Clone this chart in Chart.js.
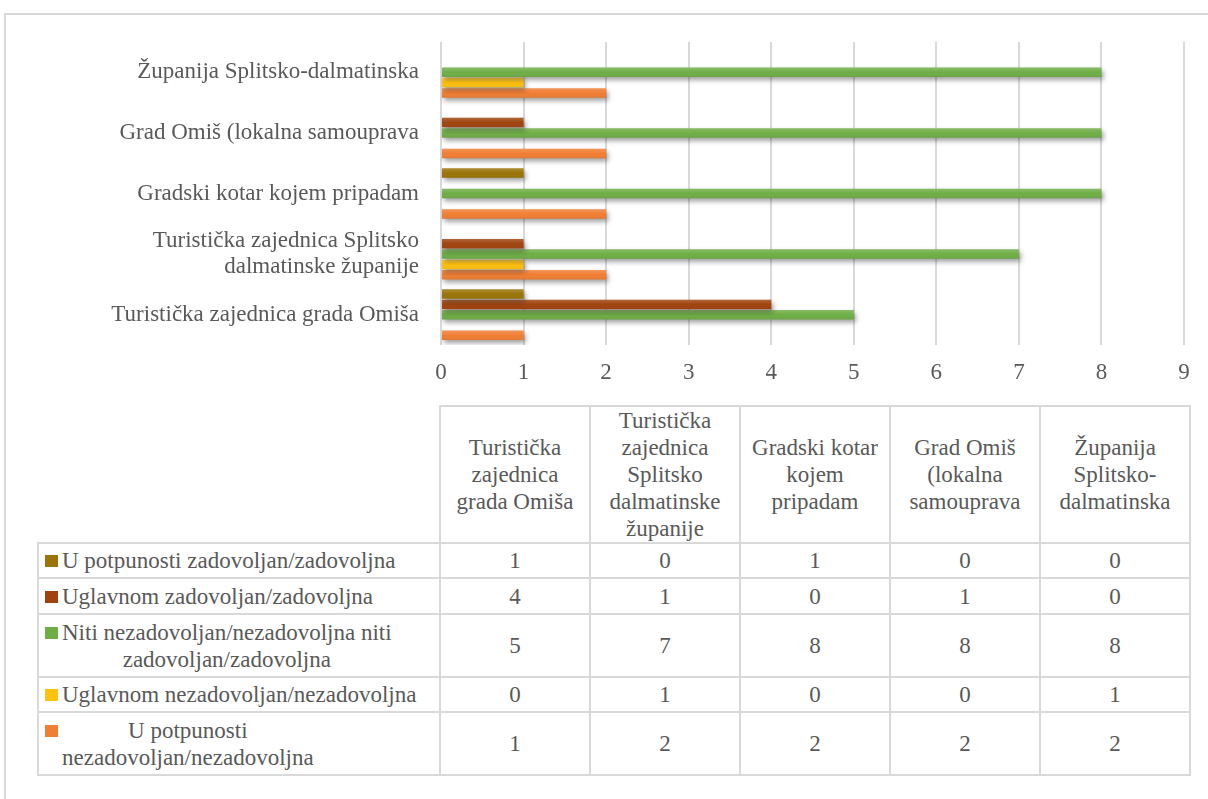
<!DOCTYPE html>
<html>
<head>
<meta charset="utf-8">
<script src="https://cdn.jsdelivr.net/npm/chart.js@4.4.1/dist/chart.umd.min.js"></script>
<style>
  html, body { margin: 0; padding: 0; background: #fff; overflow: hidden; }
  body { width: 1208px; height: 799px; position: relative; font-family: "Liberation Serif", Tinos, "Times New Roman", "DejaVu Serif", serif; color: #595959; }
  .frame { position: absolute; left: 4px; top: 13px; width: 1300px; height: 900px; border: 2px solid #d9d9d9; box-sizing: border-box; }
  #chart { position: absolute; left: 0; top: 0; }
  table.data { position: absolute; left: 37px; top: 405px; border-collapse: collapse; table-layout: fixed; font-family: inherit; font-size: 23px; line-height: 27px; color: #595959; }
  table.data td { border: 2px solid #d9d9d9; text-align: center; vertical-align: middle; padding: 0 5px; }
  table.data td.corner { border-top: none; border-left: none; }
  table.data td.leg { text-align: left; padding-left: 6px; padding-right: 0; }
  .lg { display: flex; align-items: flex-start; }
  .sw { flex: none; width: 13px; height: 12px; margin-top: 8px; margin-right: 4px; }
  .tx { text-align: center; white-space: nowrap; }
</style>
</head>
<body>
<div class="frame"></div>
<canvas id="chart" width="1208" height="400"></canvas>
<table class="data" id="tbl"></table>
<script>
const FONT = '"Liberation Serif", Tinos, "Times New Roman", "DejaVu Serif", serif';

// categories, bottom to top on the chart (same order as the table columns)
const categories = [
  'Turistička zajednica grada Omiša',
  'Turistička zajednica Splitsko dalmatinske županije',
  'Gradski kotar kojem pripadam',
  'Grad Omiš (lokalna samouprava',
  'Županija Splitsko-dalmatinska'
];
const axisLabels = [
  'Turistička zajednica grada Omiša',
  ['Turistička zajednica Splitsko', 'dalmatinske županije'],
  'Gradski kotar kojem pripadam',
  'Grad Omiš (lokalna samouprava',
  'Županija Splitsko-dalmatinska'
];

// series names, split as in the data table
const seriesLabels = [
  ['U potpunosti zadovoljan/zadovoljna'],
  ['Uglavnom zadovoljan/zadovoljna'],
  ['Niti nezadovoljan/nezadovoljna niti', 'zadovoljan/zadovoljna'],
  ['Uglavnom nezadovoljan/nezadovoljna'],
  ['U potpunosti', 'nezadovoljan/nezadovoljna']
];
const seriesColors = ['#9a7408', '#a0440f', '#6fae46', '#ffc20e', '#f07e33'];

const potpunoZadovoljan = [1, 0, 1, 0, 0];
const uglavnomZadovoljan = [4, 1, 0, 1, 0];
const niti = [5, 7, 8, 8, 8];
const uglavnomNezadovoljan = [0, 1, 0, 0, 1];
const potpunoNezadovoljan = [1, 2, 2, 2, 2];
const seriesValues = [potpunoZadovoljan, uglavnomZadovoljan, niti, uglavnomNezadovoljan, potpunoNezadovoljan];

const xTicks = [0, 1, 2, 3, 4, 5, 6, 7, 8, 9];

// soft shadow + bevel-ish shading on the bars
const barShadow = {
  id: 'barShadow',
  beforeDatasetsDraw(chart) {
    const c = chart.ctx;
    c.save();
    c.shadowColor = 'rgba(0,0,0,0.38)';
    c.shadowBlur = 5;
    c.shadowOffsetX = 2;
    c.shadowOffsetY = 3;
  },
  afterDatasetsDraw(chart) {
    const c = chart.ctx;
    c.restore();
    chart.data.datasets.forEach((ds, i) => {
      chart.getDatasetMeta(i).data.forEach(bar => {
        const h = bar.height;
        if (!h || bar.x - bar.base < 1) return;
        const top = bar.y - h / 2;
        const g = c.createLinearGradient(0, top, 0, top + h);
        g.addColorStop(0, 'rgba(255,255,255,0.18)');
        g.addColorStop(0.5, 'rgba(255,255,255,0)');
        g.addColorStop(1, 'rgba(0,0,0,0.06)');
        c.fillStyle = g;
        c.fillRect(bar.base, top, bar.x - bar.base, h);
      });
    });
  }
};

function drawChart() {
  new Chart(document.getElementById('chart'), {
    type: 'bar',
    data: {
      labels: axisLabels,
      datasets: seriesValues.map((vals, i) => ({
        label: seriesLabels[i].join(' '),
        data: vals,
        backgroundColor: seriesColors[i],
        borderWidth: 0,
        categoryPercentage: 0.85,
        barPercentage: 0.92
      }))
    },
    options: {
      indexAxis: 'y',
      responsive: false,
      animation: false,
      layout: { padding: { top: 42, right: 24, left: 0, bottom: 0 } },
      plugins: { legend: { display: false }, tooltip: { enabled: false } },
      scales: {
        x: {
          min: 0,
          max: 9,
          afterBuildTicks: s => { s.ticks = xTicks.map(v => ({ value: v })); },
          afterFit: s => { s.height = 55; },
          grid: { color: '#d9d9d9', lineWidth: 2, drawTicks: false },
          border: { display: false },
          ticks: { color: '#595959', padding: 14, font: { family: FONT, size: 23 } }
        },
        y: {
          reverse: true,
          afterFit: s => { s.width = 441; },
          grid: { display: false },
          border: { display: false },
          ticks: { color: '#595959', padding: 14, font: { family: FONT, size: 23, lineHeight: 1.13 } }
        }
      }
    },
    plugins: [barShadow]
  });
}

// data table under the chart
const tbl = document.getElementById('tbl');
const colW = [402, 150, 150, 150, 150, 150];
const rowH = [35, 36, 63, 35, 63];
let html = '<colgroup>' + colW.map(w => '<col style="width:' + w + 'px">').join('') + '</colgroup>';
html += '<tr style="height:137px"><td class="corner"></td>' + categories.map(c => '<td>' + c + '</td>').join('') + '</tr>';
seriesValues.forEach((vals, i) => {
  html += '<tr style="height:' + rowH[i] + 'px"><td class="leg"><div class="lg"><span class="sw" style="background:' + seriesColors[i] + '"></span><span class="tx">' +
    seriesLabels[i].join('<br>') + '</span></div></td>' + vals.map(v => '<td>' + v + '</td>').join('') + '</tr>';
});
tbl.innerHTML = html;

if (document.fonts && document.fonts.load) {
  document.fonts.load('23px ' + FONT).then(drawChart, drawChart);
} else {
  drawChart();
}
</script>
</body>
</html>
